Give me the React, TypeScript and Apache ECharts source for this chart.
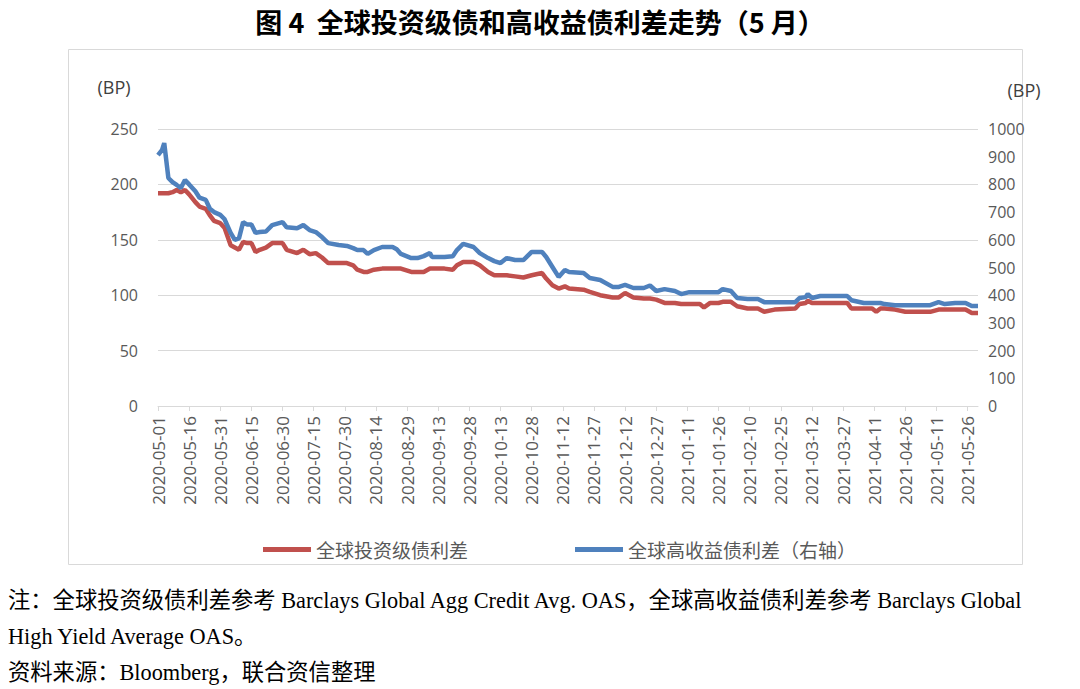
import React, { useEffect, useRef } from "react";
import * as echarts from "echarts";

const titleText = "图 4  全球投资级债和高收益债利差走势（5 月）";
const seriesNames = ["全球投资级债利差", "全球高收益债利差（右轴）"];
const noteLine1 = "注：全球投资级债利差参考 Barclays Global Agg Credit Avg. OAS，全球高收益债利差参考 Barclays Global";
const noteLine2 = "High Yield Average OAS。";
const sourceLine = "资料来源：Bloomberg，联合资信整理";

const startDate = "2020-05-01";
const endDate = "2021-05-31";

const dates = [
  "2020-05-01", "2020-05-03", "2020-05-04", "2020-05-06", "2020-05-08", "2020-05-10", "2020-05-12", "2020-05-14",
  "2020-05-16", "2020-05-19", "2020-05-21", "2020-05-24", "2020-05-26", "2020-05-28", "2020-05-31", "2020-06-02",
  "2020-06-05", "2020-06-07", "2020-06-09", "2020-06-11", "2020-06-13", "2020-06-15", "2020-06-17", "2020-06-19",
  "2020-06-22", "2020-06-25", "2020-06-30", "2020-07-02", "2020-07-07", "2020-07-10", "2020-07-13", "2020-07-16",
  "2020-07-19", "2020-07-22", "2020-07-27", "2020-07-31", "2020-08-03", "2020-08-05", "2020-08-08", "2020-08-10",
  "2020-08-13", "2020-08-17", "2020-08-22", "2020-08-24", "2020-08-26", "2020-08-31", "2020-09-03", "2020-09-06",
  "2020-09-09", "2020-09-10", "2020-09-16", "2020-09-20", "2020-09-22", "2020-09-25", "2020-09-30", "2020-10-03",
  "2020-10-07", "2020-10-10", "2020-10-13", "2020-10-16", "2020-10-20", "2020-10-24", "2020-10-28", "2020-11-02",
  "2020-11-04", "2020-11-07", "2020-11-10", "2020-11-13", "2020-11-15", "2020-11-22", "2020-11-25", "2020-11-30",
  "2020-12-06", "2020-12-09", "2020-12-12", "2020-12-16", "2020-12-21", "2020-12-24", "2020-12-27", "2020-12-31",
  "2021-01-05", "2021-01-08", "2021-01-12", "2021-01-17", "2021-01-19", "2021-01-22", "2021-01-26", "2021-01-28",
  "2021-02-01", "2021-02-04", "2021-02-09", "2021-02-14", "2021-02-17", "2021-02-22", "2021-03-04", "2021-03-06",
  "2021-03-09", "2021-03-10", "2021-03-12", "2021-03-16", "2021-03-20", "2021-03-29", "2021-03-31", "2021-04-06",
  "2021-04-10", "2021-04-12", "2021-04-14", "2021-04-16", "2021-04-21", "2021-04-26", "2021-04-30", "2021-05-08",
  "2021-05-12", "2021-05-15", "2021-05-20", "2021-05-25", "2021-05-28", "2021-05-31",
];

const igSpread = [
  192, 192, 192, 192, 193, 195, 193, 195,
  191, 184, 180, 178, 172, 167, 165, 161,
  145, 143, 141, 148, 147, 147, 139, 141,
  143, 147, 147, 141, 138, 141, 137, 138,
  134, 129, 129, 129, 127, 123, 121, 121,
  123, 124, 124, 124, 124, 121, 121, 121,
  124, 124, 124, 123, 127, 130, 130, 127,
  121, 118, 118, 118, 117, 116, 118, 120,
  115, 109, 106, 108, 106, 105, 103, 100,
  98, 98, 102, 98, 97, 97, 96, 93,
  93, 92, 92, 92, 89, 93, 93, 94,
  94, 90, 88, 88, 85, 87, 88, 92,
  93, 95, 93, 93, 93, 93, 88, 88,
  88, 85, 88, 88, 87, 85, 85, 85,
  87, 87, 87, 87, 84, 84,
];

const hySpread = [
  906, 925, 949, 823, 808, 798, 787, 816,
  800, 775, 752, 744, 712, 700, 690, 675,
  625, 600, 605, 664, 655, 655, 625, 628,
  630, 653, 664, 645, 642, 653, 635, 628,
  610, 588, 581, 578, 570, 563, 563, 549,
  563, 574, 574, 566, 549, 534, 534, 541,
  552, 538, 538, 541, 563, 585, 574, 552,
  534, 523, 516, 534, 527, 527, 556, 556,
  538, 502, 466, 491, 484, 480, 462, 455,
  430, 430, 437, 426, 426, 435, 415, 422,
  415, 404, 411, 411, 411, 411, 411, 422,
  415, 390, 386, 386, 375, 375, 375, 390,
  393, 404, 390, 397, 397, 397, 382, 372,
  372, 372, 372, 368, 364, 364, 364, 364,
  375, 368, 372, 372, 361, 361,
];

const leftTicks = { min: 0, max: 250, interval: 50 };
const rightTicks = { min: 0, max: 1000, interval: 100 };
const xTickDays = 15;

const DAY = 86400000;
const t0 = Date.UTC(2020, 4, 1);
function dayOf(s: string): number {
  const [y, m, d] = s.split("-").map(Number);
  return Math.round((Date.UTC(y, m - 1, d) - t0) / DAY);
}
function fmt(v: number): string {
  const dt = new Date(t0 + v * DAY);
  const mm = String(dt.getUTCMonth() + 1).padStart(2, "0");
  const dd = String(dt.getUTCDate()).padStart(2, "0");
  return `${dt.getUTCFullYear()}-${mm}-${dd}`;
}

export default function App() {
  const ref = useRef<HTMLDivElement>(null);
  useEffect(() => {
    if (!ref.current) return;
    const chart = echarts.init(ref.current, undefined, { renderer: "svg" });
    const grey = "#595959";
    const cjk = "'Noto Sans CJK SC', sans-serif";
    const num = "'Open Sans', sans-serif";
    const serif = "'Liberation Serif', 'Noto Sans CJK SC', serif";
    chart.setOption({
      animation: false,
      backgroundColor: "#ffffff",
      title: {
        text: titleText,
        left: "center",
        top: 3,
        textStyle: { fontSize: 27, fontFamily: cjk, fontWeight: "bold", color: "#000" },
      },
      legend: {
        left: 258,
        top: 535,
        icon: "rect",
        itemWidth: 48,
        itemHeight: 5,
        itemGap: 107,
        textStyle: { fontSize: 19, fontFamily: cjk, color: grey, padding: [0, 0, 0, 0] },
        data: seriesNames,
      },
      grid: { left: 158, right: 102, top: 129, bottom: 283, containLabel: false },
      xAxis: {
        type: "value",
        min: dayOf(startDate),
        max: dayOf(endDate),
        interval: xTickDays,
        axisLine: { show: true, lineStyle: { color: "#d9d9d9", width: 1 } },
        axisTick: { show: true, length: 5, lineStyle: { color: "#d9d9d9" } },
        splitLine: { show: false },
        axisLabel: {
          rotate: 90,
          margin: 10,
          fontSize: 17,
          fontFamily: num,
          color: grey,
          showMaxLabel: false,
          formatter: (v: number) => (v % xTickDays === 0 ? fmt(v) : ""),
        },
      },
      yAxis: [
        {
          type: "value",
          position: "left",
          ...leftTicks,
          axisLine: { show: false },
          axisTick: { show: false },
          splitLine: { show: true, lineStyle: { color: "#d9d9d9", width: 1 } },
          axisLabel: { margin: 20, fontSize: 16, fontFamily: num, color: grey, formatter: (v: number) => String(v) },
        },
        {
          type: "value",
          position: "right",
          ...rightTicks,
          axisLine: { show: false },
          axisTick: { show: false },
          splitLine: { show: false },
          axisLabel: { margin: 10, fontSize: 16, fontFamily: num, color: grey, formatter: (v: number) => String(v) },
        },
      ],
      graphic: [
        {
          type: "rect",
          shape: { x: 68.5, y: 49.5, width: 954, height: 515 },
          style: { fill: "none", stroke: "#d9d9d9", lineWidth: 1 },
          silent: true,
        },
        {
          type: "text",
          x: 114,
          y: 87,
          style: { text: "(BP)", fontSize: 18, fontFamily: num, fill: "#404040", textAlign: "center", textVerticalAlign: "middle" },
        },
        {
          type: "text",
          x: 1024,
          y: 90,
          style: { text: "(BP)", fontSize: 18, fontFamily: num, fill: "#404040", textAlign: "center", textVerticalAlign: "middle" },
        },
        {
          type: "text",
          x: 8,
          y: 600,
          style: { text: noteLine1, fontSize: 22.3, fontFamily: serif, fill: "#000", textVerticalAlign: "middle" },
        },
        {
          type: "text",
          x: 8,
          y: 636,
          style: { text: noteLine2, fontSize: 22.3, fontFamily: serif, fill: "#000", textVerticalAlign: "middle" },
        },
        {
          type: "text",
          x: 8,
          y: 672,
          style: { text: sourceLine, fontSize: 22.3, fontFamily: serif, fill: "#000", textVerticalAlign: "middle" },
        },
      ],
      series: [
        {
          name: seriesNames[0],
          type: "line",
          yAxisIndex: 0,
          showSymbol: false,
          color: "#C0504D",
          lineStyle: { width: 4.5, color: "#C0504D" },
          data: dates.map((d, i) => [dayOf(d), igSpread[i]]),
        },
        {
          name: seriesNames[1],
          type: "line",
          yAxisIndex: 1,
          showSymbol: false,
          color: "#4F81BD",
          lineStyle: { width: 4.5, color: "#4F81BD" },
          data: dates.map((d, i) => [dayOf(d), hySpread[i]]),
        },
      ],
    });
    return () => chart.dispose();
  }, []);
  return (
    <div
      ref={ref}
      style={{ position: "fixed", left: 0, top: 0, width: 1080, height: 689, background: "#fff" }}
    />
  );
}
